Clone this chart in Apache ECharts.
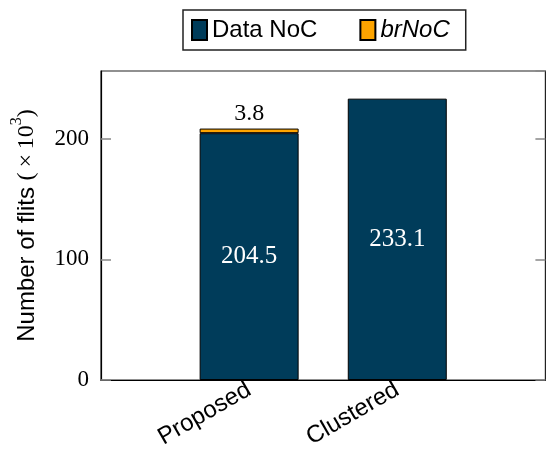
<!DOCTYPE html>
<html>
<head>
<meta charset="utf-8">
<script src="https://cdn.jsdelivr.net/npm/echarts@6/dist/echarts.min.js"></script>
<style>
  html, body { margin: 0; padding: 0; background: #fff; }
  #chart { width: 548px; height: 455px; }
</style>
</head>
<body>
<div id="chart"></div>
<script>
// Flit counts (thousands) per NoC configuration
const categories = ['Proposed', 'Clustered'];
const dataNoC = [204.5, 233.1];
const brNoC = [3.8, null];
const yTicks = [0, 100, 200];

const navy = '#003c5a';
const orange = '#ffa500';
const serif = 'Liberation Serif';
const sans = 'Liberation Sans';

// Half-step slots so the bars sit with one empty bar-width of margin at each side
const slots = ['', '', categories[0], '', categories[1], '', ''];
const fill = arr => slots.map(s => {
  const i = categories.indexOf(s);
  return (s !== '' && i >= 0 && arr[i] != null) ? arr[i] : '-';
});

const chart = echarts.init(document.getElementById('chart'));

chart.setOption({
  animation: false,
  legend: {
    top: 10,
    left: 183,
    padding: [8, 16, 8, 8],
    borderColor: '#222',
    borderWidth: 1.5,
    itemWidth: 15,
    itemHeight: 20,
    itemGap: 42,
    icon: 'rect',
    textStyle: { fontFamily: sans, fontSize: 24, color: '#000' },
    data: [
      { name: 'Data NoC' },
      { name: 'brNoC', textStyle: { fontStyle: 'italic' } }
    ]
  },
  grid: {
    left: 101, right: 1, top: 71, bottom: 75,
    show: true, borderColor: '#222', borderWidth: 1.2,
    containLabel: false
  },
  xAxis: {
    type: 'category',
    data: slots,
    boundaryGap: false,
    splitLine: { show: false },
    axisTick: { show: false },
    axisLine: { show: true, lineStyle: { color: '#000', width: 1.2 } },
    axisLabel: {
      interval: 0,
      rotate: 30,
      margin: 8,
      fontFamily: sans, fontSize: 24, color: '#000'
    }
  },
  yAxis: [
    {
      type: 'value',
      min: 0, max: 256, interval: 100,
      splitLine: { show: false },
      axisLine: { show: true, lineStyle: { color: '#000', width: 1.2 } },
      axisTick: { show: true, inside: true, length: 10, lineStyle: { color: '#888', width: 1.5 } },
      axisLabel: {
        showMaxLabel: false,
        margin: 12,
        fontFamily: serif, fontSize: 23, color: '#000',
        formatter: v => (yTicks.includes(v) ? String(v) : '')
      },
      name: '{a|Number of flits }{b|(\u2009×\u200910}{s|3}{b|)}',
      nameLocation: 'middle',
      nameRotate: 90,
      nameGap: 62,
      nameTextStyle: {
        rich: {
          a: { fontFamily: sans, fontSize: 24, color: '#000', lineHeight: 30, verticalAlign: 'bottom' },
          b: { fontFamily: serif, fontSize: 24, color: '#000', lineHeight: 30, verticalAlign: 'bottom' },
          s: { fontFamily: serif, fontSize: 16, color: '#000', verticalAlign: 'top', lineHeight: 30 }
        }
      }
    },
    {
      type: 'value',
      position: 'right',
      min: 0, max: 256, interval: 100,
      splitLine: { show: false },
      axisLine: { show: false },
      axisTick: { show: true, inside: true, length: 10, lineStyle: { color: '#888', width: 1.5 } },
      axisLabel: { show: false }
    }
  ],
  series: [
    {
      name: 'Data NoC',
      type: 'bar',
      stack: 'flits',
      barWidth: 99,
      itemStyle: { color: navy, borderColor: '#000', borderWidth: 1 },
      label: {
        show: true, position: 'inside',
        fontFamily: serif, fontSize: 25, color: '#fff',
        formatter: p => Number(p.value).toFixed(1)
      },
      data: fill(dataNoC)
    },
    {
      name: 'brNoC',
      type: 'bar',
      stack: 'flits',
      barWidth: 99,
      itemStyle: { color: orange, borderColor: '#000', borderWidth: 1 },
      label: {
        show: true, position: 'top', distance: 3,
        fontFamily: serif, fontSize: 24, color: '#000',
        formatter: p => Number(p.value).toFixed(1)
      },
      data: fill(brNoC)
    }
  ]
});
</script>
</body>
</html>
